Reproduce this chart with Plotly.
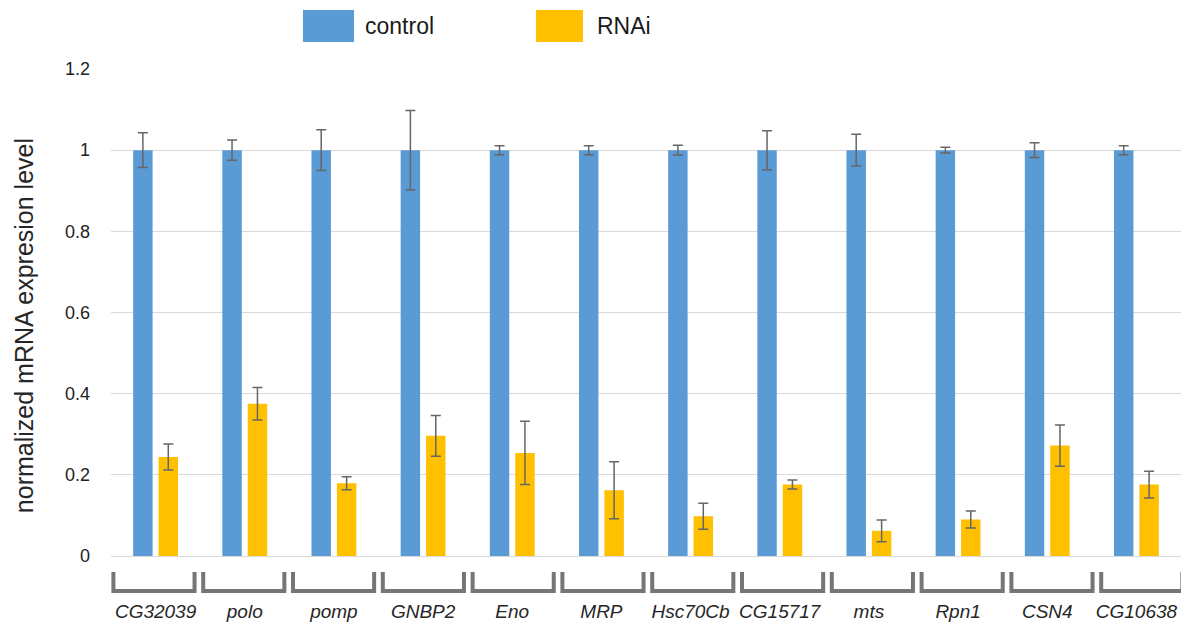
import plotly.graph_objects as go

genes = ["CG32039", "polo", "pomp", "GNBP2", "Eno", "MRP", "Hsc70Cb",
         "CG15717", "mts", "Rpn1", "CSN4", "CG10638"]
control = [1.0] * 12
control_err = [0.043, 0.025, 0.050, 0.098, 0.011, 0.011, 0.012,
               0.048, 0.039, 0.007, 0.018, 0.011]
rnai = [0.244, 0.375, 0.179, 0.296, 0.254, 0.162, 0.098,
        0.176, 0.062, 0.090, 0.272, 0.176]
rnai_err = [0.032, 0.040, 0.016, 0.050, 0.078, 0.070, 0.032,
            0.011, 0.027, 0.021, 0.051, 0.033]
series_names = ["control", "RNAi"]
colors = ["#5b9bd5", "#ffc000"]
y_ticks = [0, 0.2, 0.4, 0.6, 0.8, 1.0, 1.2]
y_title = "normalized mRNA expresion level"

xpos = list(range(len(genes)))
FONT = "Arial, Liberation Sans, sans-serif"
ERR_COLOR = "#666666"

fig = go.Figure()
for name, vals, errs, col in [(series_names[0], control, control_err, colors[0]),
                              (series_names[1], rnai, rnai_err, colors[1])]:
    fig.add_trace(go.Bar(
        x=xpos, y=vals, name=name, marker_color=col,
        marker_line_width=0, showlegend=False,
        error_y=dict(type="data", array=errs, visible=True,
                     color=ERR_COLOR, thickness=1.5, width=5),
    ))

# category brackets below the axis
shapes = []
for i in xpos:
    c = i - 0.018 + 0.0071 * i
    x0, x1 = c - 0.455, c + 0.455
    yt, yb = -0.033, -0.072
    shapes.append(dict(type="path", xref="x", yref="paper",
                       path=f"M {x0},{yt} L {x0},{yb} L {x1},{yb} L {x1},{yt}",
                       line=dict(color="#767676", width=4)))

# custom legend (large swatches as in the reference)
legend_items = [
    (series_names[0], colors[0], 0.1794, 0.2271, 0.2355),
    (series_names[1], colors[1], 0.3972, 0.4411, 0.4523),
]
annotations = []
for name, col, sx0, sx1, tx in legend_items:
    shapes.append(dict(type="rect", xref="paper", yref="paper",
                       x0=sx0, x1=sx1, y0=1.0554, y1=1.1211,
                       fillcolor=col, line=dict(width=0)))
    annotations.append(dict(text=name, xref="paper", yref="paper",
                            x=tx, y=1.0883, xanchor="left", yanchor="middle",
                            showarrow=False,
                            font=dict(family=FONT, size=23, color="#1a1a1a")))

annotations.append(dict(text=y_title, xref="paper", yref="paper",
                        x=(24 - 111) / 1070, y=0.472, textangle=-90,
                        xanchor="center", yanchor="middle", showarrow=False,
                        font=dict(family=FONT, size=25, color="#262626")))

fig.update_layout(
    width=1196, height=624,
    margin=dict(l=111, r=15, t=69, b=68, autoexpand=False),
    paper_bgcolor="white", plot_bgcolor="white",
    barmode="group", bargap=0.43, bargroupgap=0.235,
    shapes=shapes, annotations=annotations,
    xaxis=dict(range=[-0.5, len(genes) - 0.5], tickmode="array",
               tickvals=xpos, ticktext=genes, showgrid=False,
               zeroline=False, showline=False, ticks="", automargin=False,
               ticklabelstandoff=42,
               tickfont=dict(family=FONT, size=19, color="#262626",
                             style="italic")),
    yaxis=dict(range=[0, 1.2], tickmode="array", tickvals=y_ticks,
               showgrid=True, gridcolor="#d9d9d9", gridwidth=1.3,
               zeroline=True, zerolinecolor="#d9d9d9", zerolinewidth=1.3,
               showline=False, ticks="", ticklabelstandoff=20,
               automargin=False,
               tickfont=dict(family=FONT, size=18, color="#222222")),
    font=dict(family=FONT),
)

fig.write_html("out.html", config={"displayModeBar": False},
               post_script="document.body.style.margin='0';")
